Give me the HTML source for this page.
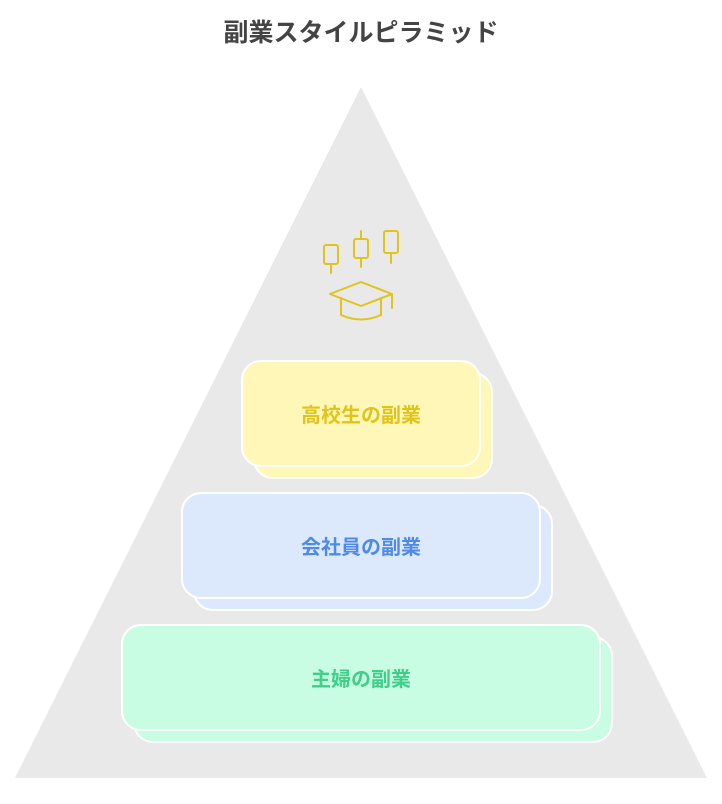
<!DOCTYPE html>
<html><head><meta charset="utf-8"><style>
html,body{margin:0;padding:0;background:#fff;width:722px;height:804px;overflow:hidden;font-family:"Liberation Sans","Noto Sans CJK JP",sans-serif;}
.t{position:absolute;left:0;width:722px;top:13px;text-align:center;font-size:25px;font-weight:bold;color:#444;}
.b{position:absolute;border:2px solid #fff;border-radius:20px;box-sizing:border-box;display:flex;align-items:center;justify-content:center;font-size:20px;font-weight:bold;}
</style></head><body>
<svg width="722" height="804" style="position:absolute;left:0;top:0">
<polygon points="361,87 15,778 707,778" fill="#e9e9e9"/>
<g fill="none" stroke="#e0c41a" stroke-width="2" stroke-linecap="round" stroke-linejoin="round">
<rect x="324" y="245" width="14" height="19" rx="2"/><line x1="331" y1="264" x2="331" y2="273"/>
<rect x="354" y="239" width="14" height="19" rx="2"/><line x1="361" y1="231" x2="361" y2="239"/><line x1="361" y1="258" x2="361" y2="267"/>
<rect x="384" y="231" width="14" height="22" rx="2"/><line x1="391" y1="253" x2="391" y2="263"/>
<polygon points="330,294 361,282 392,294 361,306"/>
<line x1="392" y1="294" x2="392" y2="308"/>
<path d="M341,298 V315 Q361,324 381,315 V298"/>
</g>
</svg>
<div class="t">副業スタイルピラミッド</div>
<div class="b" style="left:253px;top:372px;width:240px;height:107px;background:#fff7b8"></div>
<div class="b" style="left:241px;top:360px;width:240px;height:107px;background:#fff7b8;color:#e0c41a">高校生の副業</div>
<div class="b" style="left:193px;top:504px;width:360px;height:107px;background:#dce8fc"></div>
<div class="b" style="left:181px;top:492px;width:360px;height:107px;background:#dce8fc;color:#4f8ae8">会社員の副業</div>
<div class="b" style="left:133px;top:636px;width:480px;height:107px;background:#c9fde3"></div>
<div class="b" style="left:121px;top:624px;width:480px;height:107px;background:#c9fde3;color:#3ecf88">主婦の副業</div>
</body></html>
